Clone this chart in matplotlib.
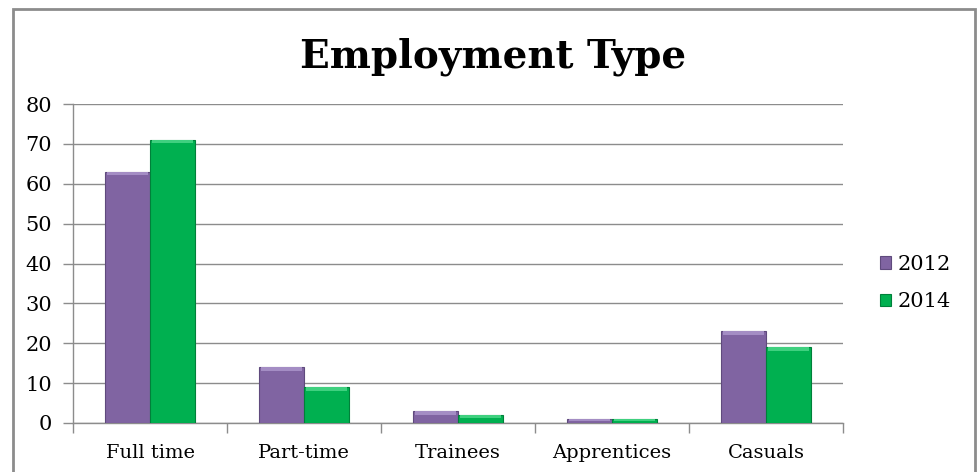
import numpy as np
import matplotlib.pyplot as plt
from matplotlib.patches import Rectangle

plt.rcParams['font.family'] = ['DejaVu Serif']

categories = ["Full time", "Part-time", "Trainees", "Apprentices", "Casuals"]
vals_2012 = [63, 14, 3, 1, 23]
vals_2014 = [71, 9, 2, 1, 19]
years = ["2012", "2014"]

purple = "#8064a2"
green = "#00b050"
grid_col = "#8c8c8c"

fig = plt.figure(figsize=(9.77, 4.72), dpi=100)
ax = fig.add_axes([73/977, 1-423/472, 770/977, 319/472])

x = np.arange(len(categories))
w = 0.29
b1 = ax.bar(x - w/2, vals_2012, w, color=purple, edgecolor="#5f4a7d", linewidth=0.8, label=years[0], zorder=3)
b2 = ax.bar(x + w/2, vals_2014, w, color=green, edgecolor="#00803a", linewidth=0.8, label=years[1], zorder=3)

# light bevel strip on top of each bar
for bars, light in ((b1, "#a48dc4"), (b2, "#3fd07f")):
    for r in bars:
        h = min(0.9, r.get_height()*0.4)
        ax.add_patch(Rectangle((r.get_x()+0.01, r.get_height()-h), r.get_width()-0.02, h,
                               color=light, lw=0, zorder=4))

ax.set_xlim(-0.5, len(categories)-0.5)
ax.set_ylim(0, 80)
ax.set_yticks(range(0, 81, 10))
ax.set_xticks(x)
ax.set_xticklabels(categories)
ax.set_xticks(np.arange(-0.5, len(categories), 1), minor=True)
ax.tick_params(axis='x', which='major', length=0, pad=15, labelsize=14)
ax.tick_params(axis='x', which='minor', length=7, width=1.0, color=grid_col)
ax.tick_params(axis='y', length=7, width=1.0, color=grid_col, labelsize=15, pad=8)
ax.yaxis.grid(True, color=grid_col, lw=1.0, zorder=0)
ax.set_axisbelow(True)
for s in ['top', 'right']:
    ax.spines[s].set_visible(False)
ax.spines['left'].set_color(grid_col)
ax.spines['bottom'].set_color(grid_col)
ax.spines['left'].set_linewidth(1.0)
ax.spines['bottom'].set_linewidth(1.0)

fig.text(493/977, 1-57/472, "Employment Type", ha='center', va='center', fontsize=28, fontweight='bold')

leg = fig.legend(handles=[b1, b2], labels=years, loc='center left', bbox_to_anchor=(861/977, 1-283/472),
                 frameon=False, fontsize=15, handlelength=0.55, handleheight=0.55, handletextpad=0.3,
                 labelspacing=0.9)

fig.add_artist(Rectangle((13/977, -0.05), 962/977, 1-9/472+0.05, transform=fig.transFigure,
                         fill=False, edgecolor="#8c8c8c", lw=2))

fig.savefig("out.png", dpi=100)
